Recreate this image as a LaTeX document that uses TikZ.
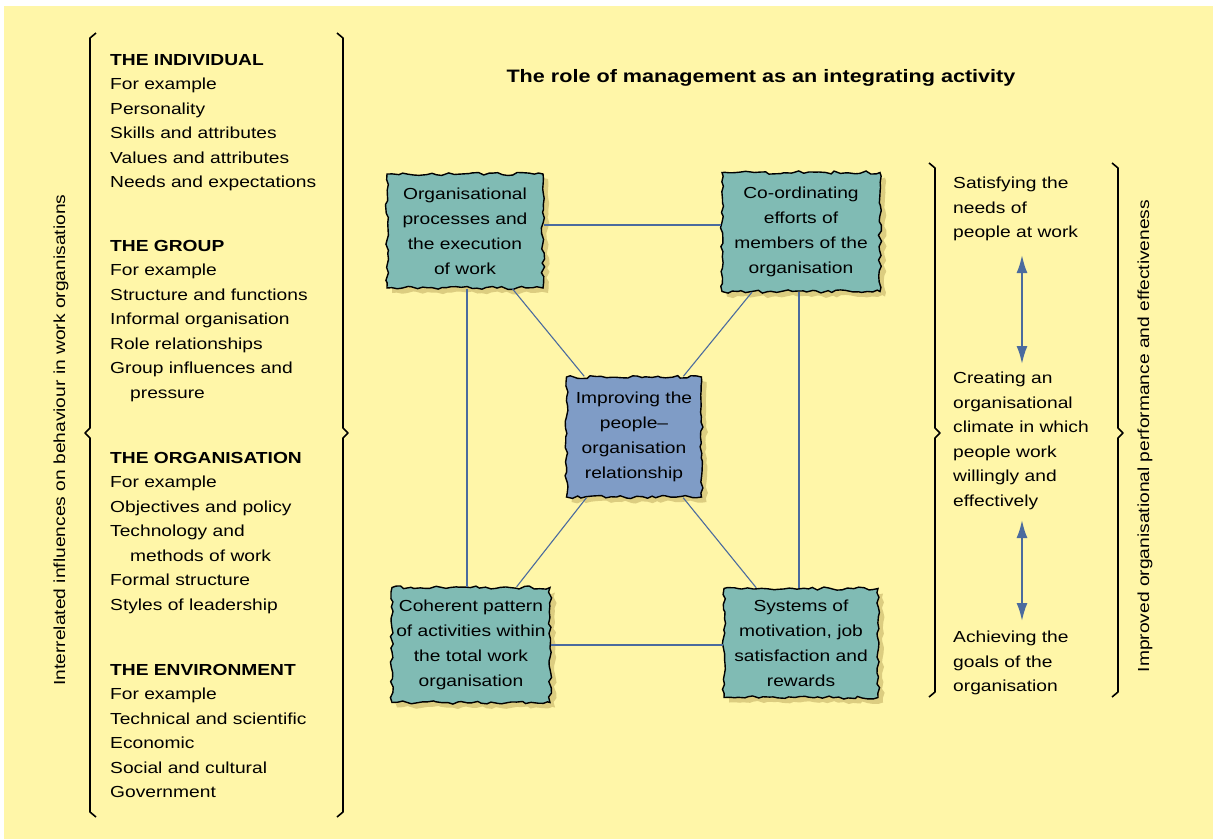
\documentclass[tikz,border=0pt]{standalone}
\usepackage{fontspec}
\setmainfont{Liberation Sans}[FakeStretch=1.2]
\usetikzlibrary{decorations.pathmorphing,shadows,arrows.meta}
\definecolor{bgyellow}{HTML}{FFF6A8}
\definecolor{boxteal}{HTML}{80BBB4}
\definecolor{boxblue}{HTML}{7F9CC6}
\definecolor{linkblue}{HTML}{4B6B9E}
\definecolor{shadowtan}{HTML}{DCCD80}
\begin{document}
\pgfmathsetseed{7}
\begin{tikzpicture}[x=1pt,y=-1pt,
  every node/.style={inner sep=0pt},
  body/.style={font=\fontsize{16}{24.5}\selectfont, align=left, anchor=north west},
  cloud box/.style={draw=black, line width=1.4pt, fill=#1,
    decorate, decoration={random steps, segment length=5pt, amplitude=1.6pt},
    general shadow={fill=shadowtan, shadow xshift=5pt, shadow yshift=-5pt},
    align=center, font=\fontsize{16}{25}\selectfont},
  link/.style={draw=linkblue, line width=1.5pt},
  diag/.style={draw=linkblue, line width=1.1pt},
  brace/.style={draw=black, line width=1.6pt, line join=round},
  twoway/.style={draw=linkblue, line width=2pt,
    {Latex[length=18pt,width=11pt]}-{Latex[length=18pt,width=11pt]}}]

\useasboundingbox (0,0) rectangle (1213,839);
\fill[white] (0,0) rectangle (1213,839);
\fill[bgyellow] (4,6) rectangle (1213,839);

% title
\node[font=\bfseries\fontsize{18}{20}\selectfont] (title) at (761,78)
  {The role of management as an integrating activity};

% left column: influences on behaviour
\node[body] (indiv) at (110,54)
  {\textbf{THE INDIVIDUAL}\\For example\\Personality\\Skills and attributes\\Values and attributes\\Needs and expectations};
\node[body] (group) at (110,240)
  {\textbf{THE GROUP}\\For example\\Structure and functions\\Informal organisation\\Role relationships\\Group influences and\\\hspace*{20pt}pressure};
\node[body] (org) at (110,452)
  {\textbf{THE ORGANISATION}\\For example\\Objectives and policy\\Technology and\\\hspace*{20pt}methods of work\\Formal structure\\Styles of leadership};
\node[body] (env) at (110,664)
  {\textbf{THE ENVIRONMENT}\\For example\\Technical and scientific\\Economic\\Social and cultural\\Government};

\node[rotate=90, font=\fontsize{16}{20}\selectfont] (lefttitle) at (61,440)
  {Interrelated influences on behaviour in work organisations};

% braces round the left column
\draw[brace] (96,33) -- (90,38) -- (90,428) -- (85,433) -- (90,438) -- (90,812) -- (96,817);
\draw[brace] (337,33) -- (343,38) -- (343,428) -- (348,433) -- (343,438) -- (343,812) -- (337,817);

% integrating activities
\node[cloud box=boxteal, minimum width=156pt, minimum height=114pt] (tl) at (465,231)
  {Organisational\\processes and\\the execution\\of work};
\node[cloud box=boxteal, minimum width=158pt, minimum height=119pt] (tr) at (801,232)
  {Co-ordinating\\efforts of\\members of the\\organisation};
\node[cloud box=boxblue, minimum width=135pt, minimum height=120pt] (ctr) at (634,437)
  {Improving the\\people–\\organisation\\relationship};
\node[cloud box=boxteal, minimum width=158pt, minimum height=115pt] (bl) at (471,645)
  {Coherent pattern\\of activities within\\the total work\\organisation};
\node[cloud box=boxteal, minimum width=154pt, minimum height=109pt] (br) at (801,643)
  {Systems of\\motivation, job\\satisfaction and\\rewards};

\draw[link] ([yshift=6pt]tl.east) -- ([yshift=6pt]tl.east -| tr.west);
\draw[link] (bl.east) -- (bl.east -| br.west);
\draw[link] ([xshift=2pt]tl.south) -- ([xshift=2pt]tl.south |- bl.north);
\draw[link] ([xshift=-2pt]tr.south) -- ([xshift=-2pt]tr.south |- br.north);
\draw[diag] (tl) -- (ctr);
\draw[diag] (tr) -- (ctr);
\draw[diag] (ctr) -- (bl);
\draw[diag] (ctr) -- (br);

% right column: outcomes
\node[body] (needs) at (953,177)
  {Satisfying the\\needs of\\people at work};
\node[body] (climate) at (953,372)
  {Creating an\\organisational\\climate in which\\people work\\willingly and\\effectively};
\node[body] (goals) at (953,631)
  {Achieving the\\goals of the\\organisation};

\coordinate (a1) at (1022,255);
\coordinate (a2) at (1022,364);
\coordinate (a3) at (1022,520);
\coordinate (a4) at (1022,621);
\draw[twoway] (a1) -- (a2);
\draw[twoway] (a3) -- (a4);

\draw[brace] (929,163) -- (935,168) -- (935,428) -- (940,433) -- (935,438) -- (935,692) -- (929,697);
\draw[brace] (1112,163) -- (1118,168) -- (1118,428) -- (1123,433) -- (1118,438) -- (1118,692) -- (1112,697);

\node[rotate=90, font=\fontsize{16}{20}\selectfont] (righttitle) at (1145,436)
  {Improved organisational performance and effectiveness};
\end{tikzpicture}
\end{document}
